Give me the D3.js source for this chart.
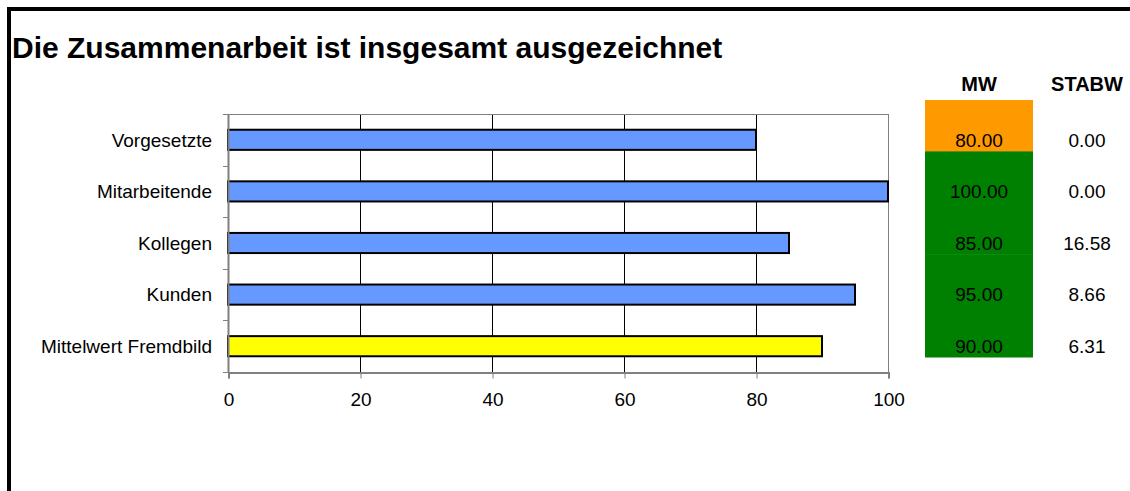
<!DOCTYPE html>
<html>
<head>
<meta charset="utf-8">
<script src="https://cdn.jsdelivr.net/npm/d3@7"></script>
<style>
  html, body { margin: 0; padding: 0; background: #fff; }
  svg { display: block; font-family: Arial, "Liberation Sans", sans-serif; }
</style>
</head>
<body>
<svg id="chart" width="1130" height="491"></svg>
<script>
// Ratings per group (0–100)
const categories = ["Vorgesetzte", "Mitarbeitende", "Kollegen", "Kunden", "Mittelwert Fremdbild"];
const meanValues = [80, 100, 85, 95, 90];
const stdValues = [0, 0, 16.58, 8.66, 6.31];
const xTicks = [0, 20, 40, 60, 80, 100];
const title = "Die Zusammenarbeit ist insgesamt ausgezeichnet";
const tableHeaders = ["MW", "STABW"];

const FONT = "Arial, 'Liberation Sans', sans-serif";
const svg = d3.select("#chart");

// Frame: thick rule along top and left edge
svg.append("path")
  .attr("d", "M9,491 V9 H1130")
  .attr("fill", "none")
  .attr("stroke", "#000")
  .attr("stroke-width", 4);

svg.append("text")
  .attr("x", 12).attr("y", 58)
  .attr("font-size", 30).attr("font-weight", "bold")
  .attr("fill", "#000")
  .text(title);

const plot = { left: 228, right: 888, top: 114, bottom: 372 };

const x = d3.scaleLinear().domain([0, 100]).range([plot.left, plot.right]);
const y = d3.scaleBand().domain(categories).range([plot.top, plot.bottom]).paddingInner(0.61).paddingOuter(0.305);

const g = svg.append("g");

// Vertical gridlines
g.selectAll("line.grid")
  .data(xTicks.filter(t => t > 0 && t < 100))
  .join("line")
  .attr("class", "grid")
  .attr("x1", d => Math.round(x(d)) + 0.5).attr("x2", d => Math.round(x(d)) + 0.5)
  .attr("y1", plot.top).attr("y2", plot.bottom)
  .attr("stroke", "#000").attr("stroke-width", 1);

// Plot area border (gray)
g.append("rect")
  .attr("x", plot.left + 0.5).attr("y", plot.top + 0.5)
  .attr("width", plot.right - plot.left).attr("height", plot.bottom - plot.top)
  .attr("fill", "none").attr("stroke", "#808080").attr("stroke-width", 1);

// Bars
g.selectAll("rect.bar")
  .data(categories)
  .join("rect")
  .attr("class", "bar")
  .attr("x", x(0))
  .attr("y", d => y(d))
  .attr("width", (d, i) => x(meanValues[i]) - x(0))
  .attr("height", y.bandwidth())
  .attr("fill", (d, i) => i === categories.length - 1 ? "#FFFF00" : "#6699FF")
  .attr("stroke", "#000").attr("stroke-width", 2);

// X axis
const xAxis = d3.axisBottom(x).tickValues(xTicks).tickSize(6).tickPadding(0).tickFormat(d3.format("d"));
const gx = svg.append("g").attr("transform", `translate(0.5,${plot.bottom + 0.5})`).call(xAxis);
gx.select(".domain").attr("stroke", "#808080").attr("stroke-width", 2);
gx.selectAll(".tick line").attr("stroke", "#808080");
gx.selectAll(".tick text")
  .attr("y", 33.5).attr("dy", null)
  .attr("font-size", 19).attr("fill", "#000").attr("font-family", FONT);

// Y axis: tick marks between categories, labels centred on bars
const boundaries = d3.range(categories.length + 1).map(i => plot.top + i * (plot.bottom - plot.top) / categories.length);
svg.append("line")
  .attr("x1", plot.left + 0.5).attr("x2", plot.left + 0.5)
  .attr("y1", plot.top).attr("y2", plot.bottom)
  .attr("stroke", "#808080").attr("stroke-width", 2);
svg.selectAll("line.ytick")
  .data(boundaries)
  .join("line")
  .attr("class", "ytick")
  .attr("x1", plot.left - 5).attr("x2", plot.left)
  .attr("y1", d => Math.round(d) + 0.5).attr("y2", d => Math.round(d) + 0.5)
  .attr("stroke", "#808080");
svg.selectAll("text.ylab")
  .data(categories)
  .join("text")
  .attr("class", "ylab")
  .attr("x", plot.left - 16)
  .attr("y", d => y(d) + y.bandwidth() / 2)
  .attr("dy", "0.36em")
  .attr("text-anchor", "end")
  .attr("font-size", 19)
  .attr("fill", "#000")
  .text(d => d);

// Side table: MW and STABW
const col = { mwLeft: 925, mwRight: 1033, stdCenter: 1087 };
const mwCenter = (col.mwLeft + col.mwRight) / 2;
const rowTop = 100, rowBottom = 357;
const rowY = d3.scaleBand().domain(categories).range([rowTop, rowBottom]);

svg.selectAll("text.head")
  .data(tableHeaders)
  .join("text")
  .attr("class", "head")
  .attr("x", (d, i) => i === 0 ? mwCenter : col.stdCenter)
  .attr("y", 91)
  .attr("text-anchor", "middle")
  .attr("font-size", 20).attr("font-weight", "bold")
  .text(d => d);

svg.selectAll("rect.cell")
  .data(categories)
  .join("rect")
  .attr("class", "cell")
  .attr("x", col.mwLeft).attr("y", d => rowY(d))
  .attr("width", col.mwRight - col.mwLeft).attr("height", rowY.bandwidth() + 0.5)
  .attr("fill", (d, i) => meanValues[i] < 85 ? "#FF9900" : "#008000");

svg.selectAll("text.mw")
  .data(categories)
  .join("text")
  .attr("class", "mw")
  .attr("x", mwCenter)
  .attr("y", d => y(d) + y.bandwidth() / 2)
  .attr("dy", "0.36em")
  .attr("text-anchor", "middle").attr("font-size", 19)
  .text((d, i) => meanValues[i].toFixed(2));

svg.selectAll("text.std")
  .data(categories)
  .join("text")
  .attr("class", "std")
  .attr("x", col.stdCenter)
  .attr("y", d => y(d) + y.bandwidth() / 2)
  .attr("dy", "0.36em")
  .attr("text-anchor", "middle").attr("font-size", 19)
  .text((d, i) => stdValues[i].toFixed(2));
</script>
</body>
</html>
